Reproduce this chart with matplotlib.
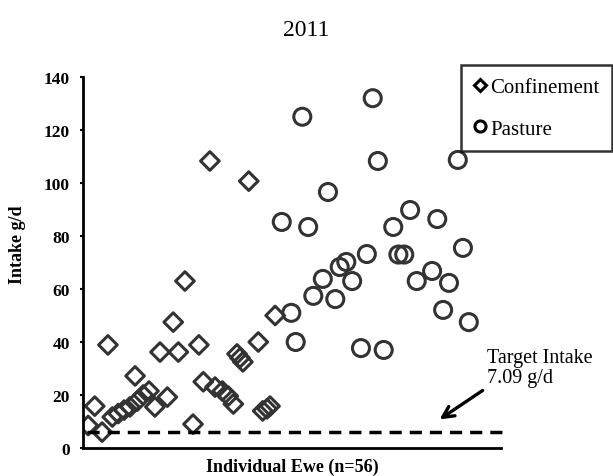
import matplotlib
matplotlib.use("Agg")
import matplotlib.pyplot as plt
from matplotlib.lines import Line2D

plt.rcParams['font.family'] = ['Liberation Serif', 'DejaVu Serif']

#====Data (x = position of the ewe along the axis, y = intake g/d)
conf_x = [0.7, 1.6, 2.6, 3.4, 4.0, 4.8, 5.6, 6.4, 7.1, 7.4, 8.2, 9.0, 9.8,
          10.5, 11.5, 12.3, 13.0, 13.9, 15.0, 15.8, 16.4, 17.3, 18.0, 19.0,
          19.8, 20.5, 21.0, 21.4, 21.8, 22.6, 23.9, 24.5, 25.1, 25.5, 26.2]
conf_y = [8.5, 15.8, 6.0, 38.9, 11.7, 13.0, 14.3, 15.5, 27.2, 17.7, 20.0,
          21.5, 15.5, 36.2, 19.2, 47.5, 36.2, 63.0, 9.0, 38.9, 25.0, 108.3,
          23.0, 21.5, 19.6, 16.6, 35.5, 34.0, 32.5, 100.7, 40.0, 14.0, 14.8,
          15.8, 50.0]

past_x = [27.1, 28.4, 29.0, 29.9, 30.7, 31.4, 32.7, 33.4, 34.4, 35.0, 35.9,
          36.7, 37.9, 38.7, 39.5, 40.2, 41.0, 42.3, 43.0, 43.8, 44.6, 45.5,
          47.6, 48.3, 49.1, 49.9, 51.1, 51.8, 52.6]
past_y = [85.3, 51.0, 40.0, 125.0, 83.4, 57.4, 63.8, 96.6, 56.2, 68.3, 70.2,
          63.0, 37.7, 73.2, 132.0, 108.3, 37.0, 83.4, 73.0, 73.0, 89.8, 63.0,
          66.8, 86.4, 52.1, 62.3, 108.7, 75.5, 47.5]

target_line = 6.0
yticks = [0, 20, 40, 60, 80, 100, 120, 140]

#====Figure
fig = plt.figure(figsize=(6.13, 4.77), dpi=100)
ax = fig.add_axes([0.1354, 0.0587, 0.682, 0.7778])

ax.scatter(conf_x, conf_y, marker='D', s=90, facecolors='none',
           edgecolors='#333333', linewidths=2.2)
ax.scatter(past_x, past_y, marker='o', s=150, facecolors='none',
           edgecolors='#333333', linewidths=2.2)

# target intake line
ax.plot([0.55, 57.8], [target_line, target_line], color='black', lw=2.5,
        dashes=(3.5, 2.3), clip_on=False)

ax.annotate('', xy=(48.3, 10.2), xytext=(54.8, 22.3),
            arrowprops=dict(arrowstyle='->,head_length=0.8,head_width=0.4',
                            color='black', lw=2.4))
ax.text(55.1, 30.5, 'Target Intake\n7.09 g/d', fontsize=14.5,
        ha='left', va='center', linespacing=1.05)

ax.set_xlim(0, 57)
ax.set_ylim(0, 140)
ax.set_yticks(yticks)
ax.set_yticklabels([str(t) for t in yticks], fontweight='bold', fontsize=12.5)
ax.set_xticks([])
ax.tick_params(axis='y', direction='out', length=2.5, width=1.5, pad=7)

for s in ['top', 'right']:
    ax.spines[s].set_visible(False)
for s in ['left', 'bottom']:
    ax.spines[s].set_linewidth(2.0)

ax.set_ylabel('Intake g/d', fontweight='bold', fontsize=13)
ax.yaxis.set_label_coords(-0.136, 0.55)
ax.set_xlabel('Individual Ewe (n=56)', fontweight='bold', fontsize=13)
ax.xaxis.set_label_coords(0.5, -0.025)

fig.text(0.5, 1 - 30 / 477, '2011', ha='center', va='center', fontsize=17)

# legend
handles = [Line2D([], [], marker='D', ls='none', markersize=6.5,
                  markerfacecolor='white', markeredgecolor='black',
                  markeredgewidth=2.2),
           Line2D([], [], marker='o', ls='none', markersize=8,
                  markerfacecolor='white', markeredgecolor='black',
                  markeredgewidth=2.2)]
leg = fig.legend(handles, ['Confinement', 'Pasture'], loc='upper right',
                 bbox_to_anchor=(612 / 613, 1 - 66 / 477), borderaxespad=0,
                 fontsize=15, frameon=True, fancybox=False, handlelength=0.6,
                 handletextpad=0.2, borderpad=0.6, labelspacing=1.05)
leg.get_frame().set_edgecolor('black')
leg.get_frame().set_linewidth(1.8)

plt.savefig('out.png', dpi=100)
